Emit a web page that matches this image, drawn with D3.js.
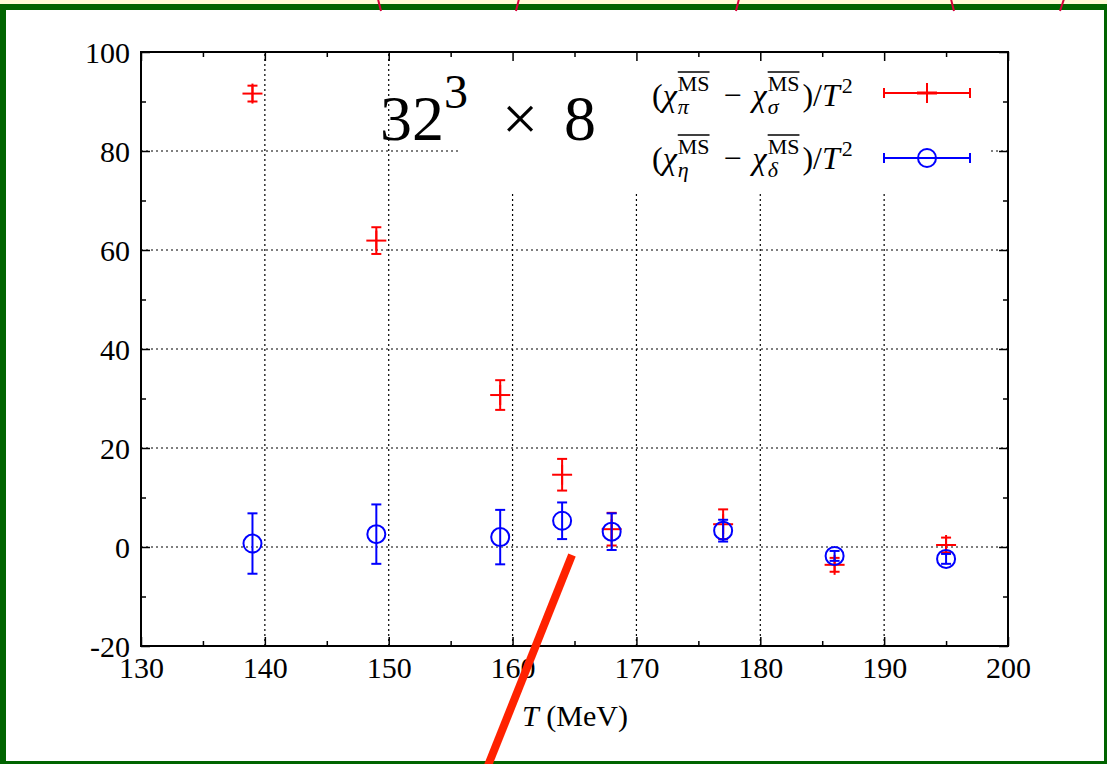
<!DOCTYPE html>
<html>
<head>
<meta charset="utf-8">
<script src="https://cdn.jsdelivr.net/npm/d3@7"></script>
<style>
  html, body { margin: 0; padding: 0; background: #fff; }
  svg { display: block; }
  text { font-family: "Liberation Serif", "DejaVu Serif", serif; fill: #000; }
</style>
</head>
<body>
<svg id="chart" width="1107" height="764"></svg>
<script>
// Temperatures (MeV)
const temps = [139, 149, 159, 164, 168, 177, 186, 195];
// (chi_pi - chi_sigma)/T^2 and its error
const piSigma    = [91.6, 61.9, 30.7, 14.6, 3.6, 4.6, -3.6, 0.4];
const piSigmaErr = [1.6, 2.7, 3.0, 3.2, 3.3, 3.0, 1.4, 1.5];
// (chi_eta - chi_delta)/T^2 and its error
const etaDelta    = [0.7, 2.6, 2.0, 5.3, 3.1, 3.3, -1.8, -2.4];
const etaDeltaErr = [6.1, 6.0, 5.5, 3.7, 3.7, 2.2, 1.0, 1.0];

const xTicks = [130, 140, 150, 160, 170, 180, 190, 200];
const xMinor = [135, 145, 155, 165, 175, 185, 195];
const yTicks = [-20, 0, 20, 40, 60, 80, 100];
const yMinor = [-10, 10, 30, 50, 70, 90];
const xGrid = [140, 150, 160, 170, 180, 190];
const yGrid = [0, 20, 40, 60, 80];

const svg = d3.select("#chart");
const W = 1107, H = 764;
const L = 141, R = 1008, T = 52, B = 646;

const x = d3.scaleLinear().domain([130, 200]).range([L, R]);
const y = d3.scaleLinear().domain([-20, 100]).range([B, T]);

// slide background and frame
svg.append("rect").attr("width", W).attr("height", H).attr("fill", "#fff");
svg.append("rect").attr("x", 0).attr("y", 0).attr("width", W).attr("height", 4).attr("fill", "#fffcd6");
const frame = svg.append("g").attr("fill", "#006400");
frame.append("rect").attr("x", 0).attr("y", 4).attr("width", W).attr("height", 6);
frame.append("rect").attr("x", 0).attr("y", 4).attr("width", 6).attr("height", H - 4);
frame.append("rect").attr("x", 0).attr("y", 761).attr("width", W).attr("height", 3);
frame.append("rect").attr("x", 1104).attr("y", 4).attr("width", 3).attr("height", H - 4);

// clipped red strokes from the slide above the frame
const topMarks = [[378, -1, 381, 11], [516, 11, 519, -1], [736, 11, 739, -1], [951, -1, 954, 11], [1060, 11, 1064, -1]];
svg.append("g").selectAll("line").data(topMarks).join("line")
  .attr("x1", d => d[0]).attr("y1", d => d[1]).attr("x2", d => d[2]).attr("y2", d => d[3])
  .attr("stroke", "#d8003a").attr("stroke-width", 2);

// grid
const grid = svg.append("g").attr("stroke", "#000").attr("stroke-width", 1.2).attr("stroke-dasharray", "2,3");
grid.selectAll(".gx").data(xGrid).join("line")
  .attr("x1", d => x(d)).attr("x2", d => x(d)).attr("y1", B).attr("y2", T);
grid.selectAll(".gy").data(yGrid).join("line").attr("class", "gy")
  .attr("x1", L).attr("x2", R).attr("y1", d => y(d)).attr("y2", d => y(d));

// opaque key area
svg.append("rect").attr("x", 458).attr("y", T + 1).attr("width", 532).attr("height", 138).attr("fill", "#fff");

// axes with inward ticks
const axes = svg.append("g");
function styleAxis(g) {
  g.select(".domain").remove();
  g.selectAll("line").attr("stroke", "#000").attr("stroke-width", 1.5);
  g.selectAll("text").style("font-family", "'Liberation Serif', serif").style("font-size", "30px").attr("fill", "#000");
}
axes.append("g").attr("transform", `translate(0,${B})`)
  .call(d3.axisBottom(x).tickValues(xTicks).tickFormat(d => String(d)).tickSizeInner(-9).tickSizeOuter(0).tickPadding(12))
  .call(styleAxis)
  .selectAll("text").attr("dy", null).attr("y", 32);
axes.append("g").attr("transform", `translate(0,${B})`)
  .call(d3.axisBottom(x).tickValues(xMinor).tickFormat("").tickSizeInner(-5).tickSizeOuter(0)).call(styleAxis);
axes.append("g").attr("transform", `translate(0,${T})`)
  .call(d3.axisTop(x).tickValues(xTicks).tickFormat("").tickSizeInner(-9).tickSizeOuter(0)).call(styleAxis);
axes.append("g").attr("transform", `translate(0,${T})`)
  .call(d3.axisTop(x).tickValues(xMinor).tickFormat("").tickSizeInner(-5).tickSizeOuter(0)).call(styleAxis);
axes.append("g").attr("transform", `translate(${L},0)`)
  .call(d3.axisLeft(y).tickValues(yTicks).tickFormat(d => String(d)).tickSizeInner(-9).tickSizeOuter(0).tickPadding(11))
  .call(styleAxis)
  .selectAll("text").attr("dy", "0.34em");
axes.append("g").attr("transform", `translate(${L},0)`)
  .call(d3.axisLeft(y).tickValues(yMinor).tickFormat("").tickSizeInner(-5).tickSizeOuter(0)).call(styleAxis);
axes.append("g").attr("transform", `translate(${R},0)`)
  .call(d3.axisRight(y).tickValues(yTicks).tickFormat("").tickSizeInner(-9).tickSizeOuter(0)).call(styleAxis);
axes.append("g").attr("transform", `translate(${R},0)`)
  .call(d3.axisRight(y).tickValues(yMinor).tickFormat("").tickSizeInner(-5).tickSizeOuter(0)).call(styleAxis);
svg.append("rect").attr("x", L).attr("y", T).attr("width", R - L).attr("height", B - T)
  .attr("fill", "none").attr("stroke", "#000").attr("stroke-width", 2);

// axis title
const xt = svg.append("text").attr("x", 575).attr("y", 726).attr("text-anchor", "middle").style("font-size", "30px");
xt.append("tspan").attr("font-style", "italic").text("T");
xt.append("tspan").text(" (MeV)");

// data series
const red = "#ff0000", blue = "#0000ff";
const capW = 5;
function errorBars(g, xs, vals, errs, color) {
  const d = xs.map((t, i) => ({ t, v: vals[i], e: errs[i] }));
  const grp = g.append("g").attr("stroke", color).attr("stroke-width", 2).attr("fill", "none");
  grp.selectAll(".eb").data(d).join("line")
    .attr("x1", p => x(p.t)).attr("x2", p => x(p.t))
    .attr("y1", p => y(p.v + p.e)).attr("y2", p => y(p.v - p.e));
  grp.selectAll(".ct").data(d).join("line").attr("class", "ct")
    .attr("x1", p => x(p.t) - capW).attr("x2", p => x(p.t) + capW)
    .attr("y1", p => y(p.v + p.e)).attr("y2", p => y(p.v + p.e));
  grp.selectAll(".cb").data(d).join("line").attr("class", "cb")
    .attr("x1", p => x(p.t) - capW).attr("x2", p => x(p.t) + capW)
    .attr("y1", p => y(p.v - p.e)).attr("y2", p => y(p.v - p.e));
  return { grp, d };
}
const plot = svg.append("g");
const rs = errorBars(plot, temps, piSigma, piSigmaErr, red);
rs.grp.selectAll(".ph").data(rs.d).join("line").attr("class", "ph")
  .attr("x1", p => x(p.t) - 10).attr("x2", p => x(p.t) + 10)
  .attr("y1", p => y(p.v)).attr("y2", p => y(p.v));
rs.grp.selectAll(".pv").data(rs.d).join("line").attr("class", "pv")
  .attr("x1", p => x(p.t)).attr("x2", p => x(p.t))
  .attr("y1", p => y(p.v) - 10).attr("y2", p => y(p.v) + 10);

const bs = errorBars(plot, temps, etaDelta, etaDeltaErr, blue);
bs.grp.selectAll(".pc").data(bs.d).join("circle").attr("class", "pc")
  .attr("cx", p => x(p.t)).attr("cy", p => y(p.v)).attr("r", 9);

// title
const tt = svg.append("text").attr("x", 380).attr("y", 140).style("font-size", "64px");
tt.append("tspan").text("32");
tt.append("tspan").attr("dy", -32).style("font-size", "48px").text("3");
tt.append("tspan").attr("dy", 32).attr("dx", 34).text("×");
tt.append("tspan").attr("dx", 26).text("8");

// legend labels laid out piece by piece
function mathLabel(x0, base, sub) {
  const g = svg.append("g");
  const fs = 32, small = 22;
  let cx = x0;
  function put(str, opts = {}) {
    const t = g.append("text").attr("x", cx).attr("y", base + (opts.dy || 0))
      .style("font-size", (opts.size || fs) + "px")
      .attr("font-style", opts.italic ? "italic" : null)
      .text(str);
    return t.node().getComputedTextLength();
  }
  function chi(subStr) {
    cx += put("χ", { italic: true }) + 1;
    const w1 = put(subStr, { italic: true, size: small, dy: 8 });
    const supT = g.append("text").attr("x", cx).attr("y", base - 15)
      .style("font-size", small + "px").text("MS");
    const w2 = supT.node().getComputedTextLength();
    g.append("line").attr("x1", cx).attr("x2", cx + w2)
      .attr("y1", base - 34).attr("y2", base - 34).attr("stroke", "#000").attr("stroke-width", 1.4);
    cx += Math.max(w1, w2) + 3;
  }
  cx += put("(");
  chi(sub[0]);
  cx += 11;
  cx += put("−");
  cx += 11;
  chi(sub[1]);
  cx += put(")/");
  cx += put("T", { italic: true }) + 2;
  put("2", { size: small, dy: -13 });
}
mathLabel(652, 106, ["π", "σ"]);
mathLabel(652, 169, ["η", "δ"]);

// legend samples
function sample(yy, color, marker) {
  const g = svg.append("g").attr("stroke", color).attr("stroke-width", 2).attr("fill", "none");
  g.append("line").attr("x1", 884).attr("x2", 970).attr("y1", yy).attr("y2", yy);
  g.append("line").attr("x1", 884).attr("x2", 884).attr("y1", yy - 5).attr("y2", yy + 5);
  g.append("line").attr("x1", 970).attr("x2", 970).attr("y1", yy - 5).attr("y2", yy + 5);
  if (marker === "plus") {
    g.append("line").attr("x1", 927).attr("x2", 927).attr("y1", yy - 10).attr("y2", yy + 10);
    g.append("line").attr("x1", 917).attr("x2", 937).attr("y1", yy).attr("y2", yy).attr("stroke-width", 3);
  } else {
    g.append("circle").attr("cx", 927).attr("cy", yy).attr("r", 9);
  }
}
sample(93, red, "plus");
sample(158, blue, "circle");

// annotation stroke
svg.append("line").attr("x1", 572).attr("y1", 555).attr("x2", 487).attr("y2", 768)
  .attr("stroke", "#ff2200").attr("stroke-width", 8);
</script>
</body>
</html>
